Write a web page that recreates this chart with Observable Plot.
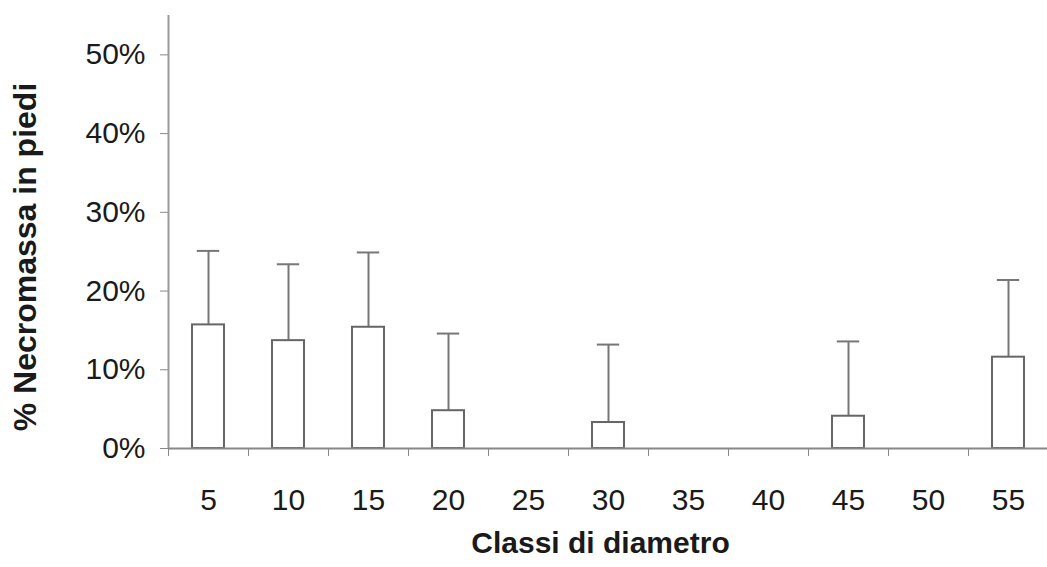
<!DOCTYPE html>
<html><head><meta charset="utf-8">
<script src="https://cdn.jsdelivr.net/npm/d3@7"></script>
<script src="https://cdn.jsdelivr.net/npm/@observablehq/plot@0.6"></script>
<style>
html,body{margin:0;padding:0;background:#fff;overflow:hidden;}
</style></head><body><div id="chart"></div>
<script>
const classes = [5, 10, 15, 20, 25, 30, 35, 40, 45, 50, 55];
const means = [0.157, 0.137, 0.154, 0.048, 0, 0.033, 0, 0, 0.041, 0, 0.116];
const upper = [0.251, 0.234, 0.249, 0.146, null, 0.132, null, null, 0.136, null, 0.214];
const yTicks = [0, 0.1, 0.2, 0.3, 0.4, 0.5];
const xTitle = "Classi di diametro";
const yTitle = "% Necromassa in piedi";

const data = classes.map((c, i) => ({c, m: means[i], u: upper[i]})).filter(d => d.m > 0);
const bounds = classes.map(c => c - 2.5).concat([classes[classes.length - 1] + 2.5]);

const chart = Plot.plot({
  width: 1047, height: 567,
  marginLeft: 168, marginRight: -1, marginTop: 15, marginBottom: 119,
  style: {fontFamily: "'Liberation Sans', Arial, sans-serif", background: "#fff", color: "#1a1a1a"},
  x: {type: "linear", domain: [2.5, 57.5]},
  y: {domain: [0, 0.55]},
  marks: [
    Plot.axisY({ticks: yTicks, tickFormat: d3.format(".0%"), tickSize: 8, tickPadding: 15, fontSize: 30, label: null, stroke: "#888"}),
    Plot.axisX({ticks: bounds, tickFormat: () => "", tickSize: 8, label: null, stroke: "#888"}),
    Plot.axisX({ticks: classes, tickSize: 0, tickPadding: 40, fontSize: 30, label: null}),
    Plot.ruleX(data, {x: "c", y1: "m", y2: "u", stroke: "#777", strokeWidth: 2}),
    Plot.ruleY(data, {y: "u", x1: d => d.c - 0.7, x2: d => d.c + 0.7, stroke: "#777", strokeWidth: 2}),
    Plot.rectY(data, {x1: d => d.c - 1, x2: d => d.c + 1, y: "m", fill: "white", stroke: "#666", strokeWidth: 2}),
    Plot.ruleY([0], {stroke: "#888", strokeWidth: 2}),
    Plot.ruleX([2.5], {stroke: "#999", strokeWidth: 2}),
    Plot.text([xTitle], {frameAnchor: "bottom", dy: 104, dx: -8, fontSize: 30, fontWeight: "bold", fill: "#1a1a1a"}),
    Plot.text([yTitle], {frameAnchor: "left", textAnchor: "middle", rotate: -90, dx: -143, dy: 25, fontSize: 32, fontWeight: "bold", fill: "#1a1a1a"})
  ]
});
document.getElementById("chart").append(chart);
</script></body></html>
